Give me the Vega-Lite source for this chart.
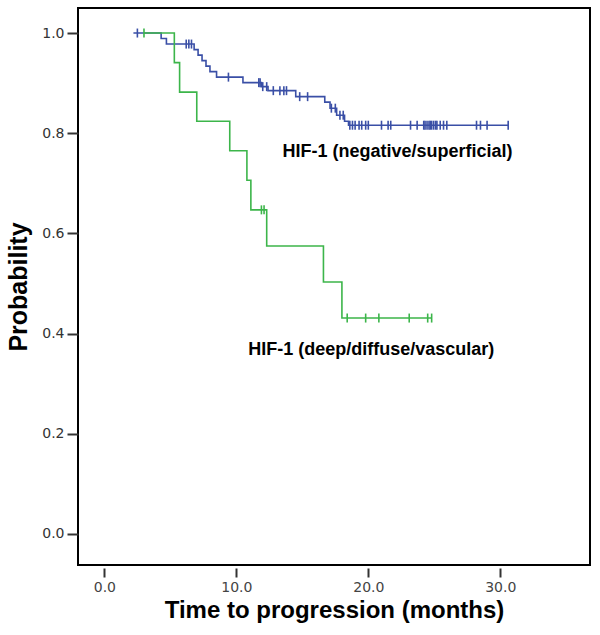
{
  "$schema": "https://vega.github.io/schema/vega-lite/v6.json",
  "width": 512,
  "height": 557,
  "autosize": "none",
  "padding": {"left": 78, "top": 8, "right": 10, "bottom": 70},
  "background": "white",
  "config": {
    "view": {"stroke": "#000", "strokeWidth": 2},
    "font": "Liberation Sans"
  },
  "datasets": {
    "km": [
      {"g": "neg", "t": 2.2, "s": 1.0, "c": 0},
      {"g": "neg", "t": 2.5, "s": 1.0, "c": 1},
      {"g": "neg", "t": 4.3, "s": 0.989, "c": 0},
      {"g": "neg", "t": 4.7, "s": 0.978, "c": 0},
      {"g": "neg", "t": 6.2, "s": 0.978, "c": 1},
      {"g": "neg", "t": 6.4, "s": 0.978, "c": 1},
      {"g": "neg", "t": 6.6, "s": 0.978, "c": 1},
      {"g": "neg", "t": 6.8, "s": 0.967, "c": 0},
      {"g": "neg", "t": 7.1, "s": 0.956, "c": 0},
      {"g": "neg", "t": 7.4, "s": 0.945, "c": 0},
      {"g": "neg", "t": 7.7, "s": 0.934, "c": 0},
      {"g": "neg", "t": 8.0, "s": 0.923, "c": 0},
      {"g": "neg", "t": 8.5, "s": 0.912, "c": 0},
      {"g": "neg", "t": 9.4, "s": 0.912, "c": 1},
      {"g": "neg", "t": 10.5, "s": 0.901, "c": 0},
      {"g": "neg", "t": 11.7, "s": 0.901, "c": 1},
      {"g": "neg", "t": 11.8, "s": 0.901, "c": 1},
      {"g": "neg", "t": 11.9, "s": 0.893, "c": 0},
      {"g": "neg", "t": 12.0, "s": 0.893, "c": 1},
      {"g": "neg", "t": 12.3, "s": 0.893, "c": 1},
      {"g": "neg", "t": 12.4, "s": 0.885, "c": 0},
      {"g": "neg", "t": 12.8, "s": 0.885, "c": 1},
      {"g": "neg", "t": 13.3, "s": 0.885, "c": 1},
      {"g": "neg", "t": 13.6, "s": 0.885, "c": 1},
      {"g": "neg", "t": 13.8, "s": 0.885, "c": 1},
      {"g": "neg", "t": 14.5, "s": 0.873, "c": 0},
      {"g": "neg", "t": 14.8, "s": 0.873, "c": 1},
      {"g": "neg", "t": 15.4, "s": 0.873, "c": 1},
      {"g": "neg", "t": 16.7, "s": 0.862, "c": 0},
      {"g": "neg", "t": 17.1, "s": 0.85, "c": 0},
      {"g": "neg", "t": 17.2, "s": 0.85, "c": 1},
      {"g": "neg", "t": 17.5, "s": 0.85, "c": 1},
      {"g": "neg", "t": 17.6, "s": 0.836, "c": 0},
      {"g": "neg", "t": 17.85, "s": 0.836, "c": 1},
      {"g": "neg", "t": 18.1, "s": 0.836, "c": 1},
      {"g": "neg", "t": 18.2, "s": 0.824, "c": 0},
      {"g": "neg", "t": 18.5, "s": 0.816, "c": 0},
      {"g": "neg", "t": 18.6, "s": 0.816, "c": 1},
      {"g": "neg", "t": 18.8, "s": 0.816, "c": 1},
      {"g": "neg", "t": 19.0, "s": 0.816, "c": 1},
      {"g": "neg", "t": 19.3, "s": 0.816, "c": 1},
      {"g": "neg", "t": 19.5, "s": 0.816, "c": 1},
      {"g": "neg", "t": 19.8, "s": 0.816, "c": 1},
      {"g": "neg", "t": 20.0, "s": 0.816, "c": 1},
      {"g": "neg", "t": 21.0, "s": 0.816, "c": 1},
      {"g": "neg", "t": 21.5, "s": 0.816, "c": 1},
      {"g": "neg", "t": 21.7, "s": 0.816, "c": 1},
      {"g": "neg", "t": 23.2, "s": 0.816, "c": 1},
      {"g": "neg", "t": 23.7, "s": 0.816, "c": 1},
      {"g": "neg", "t": 24.2, "s": 0.816, "c": 1},
      {"g": "neg", "t": 24.3, "s": 0.816, "c": 1},
      {"g": "neg", "t": 24.45, "s": 0.816, "c": 1},
      {"g": "neg", "t": 24.6, "s": 0.816, "c": 1},
      {"g": "neg", "t": 24.7, "s": 0.816, "c": 1},
      {"g": "neg", "t": 24.8, "s": 0.816, "c": 1},
      {"g": "neg", "t": 24.95, "s": 0.816, "c": 1},
      {"g": "neg", "t": 25.1, "s": 0.816, "c": 1},
      {"g": "neg", "t": 25.2, "s": 0.816, "c": 1},
      {"g": "neg", "t": 25.45, "s": 0.816, "c": 1},
      {"g": "neg", "t": 25.7, "s": 0.816, "c": 1},
      {"g": "neg", "t": 25.95, "s": 0.816, "c": 1},
      {"g": "neg", "t": 28.2, "s": 0.816, "c": 1},
      {"g": "neg", "t": 28.5, "s": 0.816, "c": 1},
      {"g": "neg", "t": 29.0, "s": 0.816, "c": 1},
      {"g": "neg", "t": 30.6, "s": 0.816, "c": 1},
      {"g": "deep", "t": 3.0, "s": 1.0, "c": 1},
      {"g": "deep", "t": 5.3, "s": 0.941, "c": 0},
      {"g": "deep", "t": 5.7, "s": 0.882, "c": 0},
      {"g": "deep", "t": 7.0, "s": 0.824, "c": 0},
      {"g": "deep", "t": 9.5, "s": 0.765, "c": 0},
      {"g": "deep", "t": 10.8, "s": 0.706, "c": 0},
      {"g": "deep", "t": 11.1, "s": 0.647, "c": 0},
      {"g": "deep", "t": 11.9, "s": 0.647, "c": 1},
      {"g": "deep", "t": 12.1, "s": 0.647, "c": 1},
      {"g": "deep", "t": 12.3, "s": 0.575, "c": 0},
      {"g": "deep", "t": 16.6, "s": 0.503, "c": 0},
      {"g": "deep", "t": 18.0, "s": 0.431, "c": 0},
      {"g": "deep", "t": 18.4, "s": 0.431, "c": 1},
      {"g": "deep", "t": 19.8, "s": 0.431, "c": 1},
      {"g": "deep", "t": 20.8, "s": 0.431, "c": 1},
      {"g": "deep", "t": 23.1, "s": 0.431, "c": 1},
      {"g": "deep", "t": 24.5, "s": 0.431, "c": 1},
      {"g": "deep", "t": 24.8, "s": 0.431, "c": 1}
    ],
    "labels": [
      {"t": 13.5, "s": 0.762, "label": "HIF-1 (negative/superficial)"},
      {"t": 10.9, "s": 0.367, "label": "HIF-1 (deep/diffuse/vascular)"}
    ]
  },
  "encoding": {
    "x": {
      "field": "t", "type": "quantitative",
      "scale": {"domain": [-2, 36.8], "nice": false, "zero": false},
      "axis": {
        "title": "Time to progression (months)",
        "values": [0, 10, 20, 30],
        "format": ".1f",
        "domain": false,
        "grid": false,
        "offset": 3,
        "tickSize": 9,
        "tickWidth": 2,
        "tickColor": "#333",
        "labelFont": "DejaVu Sans",
        "labelFontSize": 14,
        "labelColor": "#444",
        "labelPadding": 3,
        "titleFont": "Liberation Sans",
        "titleFontSize": 24,
        "titleFontWeight": "bold",
        "titleColor": "#000",
        "titlePadding": 4
      }
    },
    "y": {
      "field": "s", "type": "quantitative",
      "scale": {"domain": [-0.062, 1.05], "nice": false, "zero": false},
      "axis": {
        "title": "Probability",
        "values": [0, 0.2, 0.4, 0.6, 0.8, 1.0],
        "format": ".1f",
        "domain": false,
        "grid": false,
        "tickSize": 11,
        "tickWidth": 2,
        "tickColor": "#333",
        "labelFont": "DejaVu Sans",
        "labelFontSize": 14,
        "labelColor": "#333",
        "labelPadding": 3,
        "titleFont": "Liberation Sans",
        "titleFontSize": 25,
        "titleFontWeight": "bold",
        "titleColor": "#000",
        "titlePadding": 10
      }
    }
  },
  "layer": [
    {
      "data": {"name": "km"},
      "mark": {"type": "line", "interpolate": "step-after", "strokeWidth": 1.6},
      "encoding": {
        "color": {
          "field": "g", "type": "nominal",
          "scale": {"domain": ["neg", "deep"], "range": ["#3a4fa6", "#3cb54a"]},
          "legend": null
        }
      }
    },
    {
      "data": {"name": "km"},
      "transform": [{"filter": "datum.c == 1"}],
      "mark": {"type": "point", "shape": "M0,-1V1", "size": 81, "filled": false, "strokeWidth": 1.6, "opacity": 1},
      "encoding": {
        "color": {
          "field": "g", "type": "nominal",
          "scale": {"domain": ["neg", "deep"], "range": ["#3a4fa6", "#3cb54a"]},
          "legend": null
        }
      }
    },
    {
      "data": {"name": "labels"},
      "mark": {"type": "text", "align": "left", "baseline": "middle", "font": "Liberation Sans", "fontWeight": "bold", "fontSize": 18, "color": "#000"},
      "encoding": {"text": {"field": "label"}}
    }
  ]
}
